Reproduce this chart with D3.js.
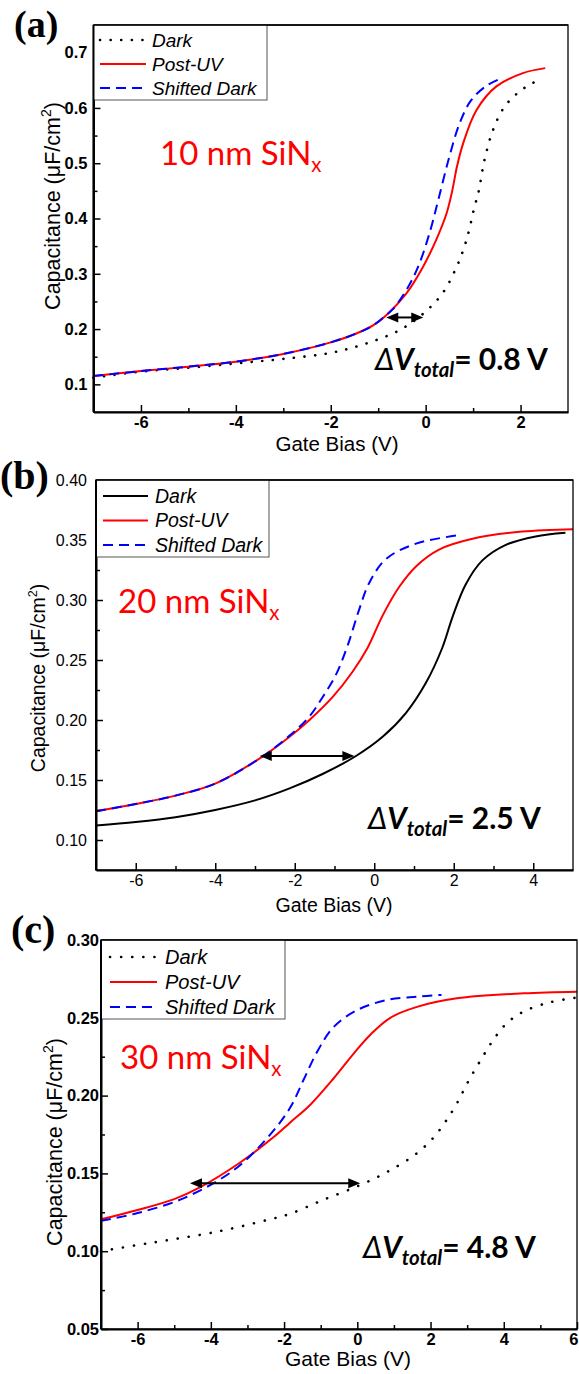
<!DOCTYPE html>
<html><head><meta charset="utf-8">
<script src="https://cdn.jsdelivr.net/npm/d3@7"></script>
<style>body{margin:0;background:#fff}</style>
</head><body>
<svg id="chart" width="579" height="1374" xmlns="http://www.w3.org/2000/svg"></svg>
<script>
// ---------- DATA (Gate Bias V, Capacitance uF/cm2) ----------
const seriesNames = ["Dark", "Post-UV", "Shifted Dark"];

// Panel (a) 10 nm SiNx
const aDark = [[-7,0.112],[-6,0.123],[-5,0.130],[-4,0.138],[-3,0.146],[-2,0.157],[-1.25,0.174],[-0.55,0.198],[-0.05,0.228],[0.35,0.264],[0.65,0.312],[0.86,0.361],[1.03,0.421],[1.12,0.45],[1.24,0.506],[1.42,0.56],[1.66,0.602],[1.94,0.627],[2.19,0.642],[2.42,0.652]];
const aPostUV = [[-7,0.115],[-6,0.124],[-5,0.132],[-4,0.141],[-3,0.155],[-2,0.176],[-1.46,0.192],[-1.1,0.207],[-0.83,0.225],[-0.41,0.264],[-0.06,0.312],[0.22,0.361],[0.44,0.409],[0.56,0.45],[0.66,0.494],[0.79,0.536],[1.07,0.596],[1.49,0.639],[2.05,0.663],[2.52,0.672]];
const aShifted = [[-7,0.115],[-6,0.124],[-5,0.132],[-4,0.141],[-3,0.155],[-2,0.176],[-1.46,0.192],[-1.1,0.207],[-0.85,0.224],[-0.69,0.236],[-0.41,0.27],[-0.16,0.3125],[0.08,0.373],[0.27,0.435],[0.5,0.512],[0.72,0.573],[0.96,0.614],[1.28,0.64],[1.55,0.652]];
const aArrow = [-0.83, -0.05, 0.221];
const aXTicks = [-6,-4,-2,0,2], aXMinor = [-5,-3,-1,1];
const aYTicks = [0.1,0.2,0.3,0.4,0.5,0.6,0.7], aYMinor = [0.15,0.25,0.35,0.45,0.55,0.65];
const aLabel = "10 nm SiN", aShift = "0.8";

// Panel (b) 20 nm SiNx
const bDark = [[-7,0.112],[-6,0.115],[-5,0.119],[-4,0.125],[-3,0.133],[-2.13,0.143],[-1.3,0.155],[-0.46,0.170],[0.21,0.186],[0.8,0.206],[1.3,0.231],[1.71,0.260],[1.97,0.286],[2.3,0.313],[2.72,0.333],[3.31,0.346],[4.06,0.353],[4.81,0.356]];
const bPostUV = [[-7,0.124],[-6,0.130],[-5,0.137],[-4,0.147],[-2.88,0.168],[-2.13,0.186],[-1.63,0.2],[-1.05,0.219],[-0.55,0.24],[-0.17,0.26],[0.21,0.287],[0.63,0.311],[1.05,0.328],[1.63,0.342],[2.47,0.351],[3.72,0.357],[5,0.359]];
const bShifted = [[-7,0.124],[-6,0.130],[-5,0.137],[-4,0.147],[-2.88,0.168],[-2.13,0.187],[-1.63,0.203],[-1.3,0.219],[-0.96,0.238],[-0.67,0.262],[-0.38,0.292],[-0.13,0.314],[0.29,0.334],[1.05,0.347],[2.13,0.354]];
const bArrow = [-2.88, -0.5, 0.17];
const bXTicks = [-6,-4,-2,0,2,4], bXMinor = [-5,-3,-1,1,3];
const bYTicks = [0.10,0.15,0.20,0.25,0.30,0.35,0.40], bYMinor = [0.125,0.175,0.225,0.275,0.325,0.375];
const bLabel = "20 nm SiN", bShift = "2.5";

// Panel (c) 30 nm SiNx
const cDark = [[-7,0.100],[-6,0.104],[-5.2,0.107],[-3.84,0.1125],[-2.47,0.12],[-1.84,0.124],[-0.93,0.133],[0.08,0.1425],[0.9,0.152],[1.63,0.163],[2.08,0.173],[2.4,0.183],[2.72,0.195],[3.05,0.21],[3.4,0.224],[3.72,0.236],[4.08,0.2465],[4.54,0.254],[5.27,0.26],[6.0,0.263]];
const cPostUV = [[-7,0.1205],[-6,0.1265],[-5,0.1335],[-4.3,0.141],[-3.2,0.157],[-2.2,0.175],[-1.84,0.1826],[-1.29,0.194],[-0.65,0.211],[-0.1,0.227],[0.35,0.239],[0.9,0.250],[1.63,0.257],[2.72,0.2625],[4.54,0.2657],[6.0,0.2668]];
const cShifted = [[-7,0.1195],[-6,0.1245],[-4.75,0.134],[-3.38,0.152],[-2.47,0.1725],[-1.84,0.192],[-1.47,0.21],[-1.1,0.228],[-0.65,0.244],[0,0.255],[0.8,0.2614],[1.63,0.2636],[2.3,0.2647]];
const cArrow = [-4.57, 0.08, 0.1436];
const cXTicks = [-6,-4,-2,0,2,4,6], cXMinor = [-5,-3,-1,1,3,5];
const cYTicks = [0.05,0.10,0.15,0.20,0.25,0.30], cYMinor = [0.075,0.125,0.175,0.225,0.275];
const cLabel = "30 nm SiN", cShift = "4.8";

// ---------- DRAWING ----------
const svg = d3.select("#chart");
svg.append("rect").attr("width",579).attr("height",1374).attr("fill","#fff");
const SANS = "Arial, 'Liberation Sans', sans-serif";
const RED = "#ff0000", BLUE = "#0000ff";

function styleLine(sel, st) {
  sel.attr("fill","none").attr("stroke",st.color).attr("stroke-width",st.width)
     .attr("stroke-dasharray",st.dash).attr("stroke-linecap",st.cap);
}

function panel(p) {
  const x = d3.scaleLinear().domain(p.xDom).range([p.l, p.r]);
  const y = d3.scaleLinear().domain(p.yDom).range([p.b, p.t]);
  const g = svg.append("g");
  const fw = p.bold ? "bold" : "normal";

  // curves
  const line = d3.line().x(d => x(d[0])).y(d => y(d[1])).curve(d3.curveCatmullRom.alpha(0.5));
  p.series.forEach(s => {
    g.append("path").datum(s.data).attr("d", line).call(styleLine, s);
  });

  // frame
  g.append("rect").attr("x",p.l).attr("y",p.t).attr("width",p.r-p.l).attr("height",p.b-p.t)
    .attr("fill","none").attr("stroke","#000").attr("stroke-width",1.3);

  // minor ticks
  const mx = g.append("g").attr("transform",`translate(0,${p.b})`)
    .call(d3.axisBottom(x).tickValues(p.xMinor).tickSizeInner(-4).tickSizeOuter(0).tickFormat(""));
  const my = g.append("g").attr("transform",`translate(${p.l},0)`)
    .call(d3.axisLeft(y).tickValues(p.yMinor).tickSizeInner(-4).tickSizeOuter(0).tickFormat(""));
  [mx,my].forEach(a => { a.select(".domain").remove(); a.selectAll("line").attr("stroke-width",1.5); });

  // major axes
  const ax = g.append("g").attr("transform",`translate(0,${p.b})`)
    .call(d3.axisBottom(x).tickValues(p.xTicks).tickSizeInner(-7).tickSizeOuter(0).tickPadding(p.xPad).tickFormat(d => String(d)));
  const ay = g.append("g").attr("transform",`translate(${p.l},0)`)
    .call(d3.axisLeft(y).tickValues(p.yTicks).tickSizeInner(-7).tickSizeOuter(0).tickPadding(p.yPad).tickFormat(d3.format(p.yFmt)));
  [ax,ay].forEach(a => {
    a.select(".domain").attr("stroke-width",2);
    a.selectAll("line").attr("stroke-width",1.5);
    a.selectAll("text").attr("font-family",SANS).attr("font-size",p.tickSize).attr("font-weight",fw).attr("fill","#000");
  });
  // keep the last x label (at the right edge) inside the picture
  ax.selectAll(".tick text").filter(d => x(d) > 570).attr("text-anchor","end").attr("dx", 578 - x(p.xDom[1]) + "px");

  // axis titles
  g.append("text").attr("x",p.xtX).attr("y",p.xtY).attr("text-anchor","middle")
    .attr("font-family",SANS).attr("font-size",p.xtSize).text("Gate Bias (V)");
  const yt = g.append("text").attr("transform",`translate(${p.ytX},${p.ytY}) rotate(-90)`)
    .attr("text-anchor","middle").attr("font-family",SANS).attr("font-size",p.titleSize);
  yt.append("tspan").text("Capacitance (\u03BCF/cm");
  yt.append("tspan").attr("font-size",p.titleSize*0.65).attr("dy",-p.titleSize*0.4).text("2");
  yt.append("tspan").attr("dy",p.titleSize*0.4).text(")");

  // legend
  const L = p.legend;
  g.append("rect").attr("x",p.l).attr("y",p.t).attr("width",L.w).attr("height",L.h)
    .attr("fill","#fff").attr("stroke","#555").attr("stroke-width",1);
  p.series.forEach((s,i) => {
    const ly = L.y0 + i*L.dy;
    g.append("line").attr("x1",L.sx1).attr("x2",L.sx2).attr("y1",ly).attr("y2",ly).call(styleLine, s);
    g.append("text").attr("x",L.tx).attr("y",ly).attr("dy","0.35em")
      .attr("font-family",SANS).attr("font-style","italic").attr("font-size",L.fs).text(s.name);
  });
  g.append("line").attr("x1",p.l).attr("x2",p.l).attr("y1",p.t).attr("y2",p.b).attr("stroke","#000").attr("stroke-width",2);
  g.append("line").attr("x1",p.l).attr("x2",p.r).attr("y1",p.t).attr("y2",p.t).attr("stroke","#000").attr("stroke-width",1.3);

  // arrow
  const [a0,a1,av] = p.arrow;
  const X0 = x(a0), X1 = x(a1), Y = y(av), hl = 12, hw = 5;
  g.append("line").attr("x1",X0+hl-1).attr("x2",X1-hl+1).attr("y1",Y).attr("y2",Y).attr("stroke","#000").attr("stroke-width",2);
  g.append("path").attr("d",`M${X0},${Y}L${X0+hl},${Y-hw}L${X0+hl},${Y+hw}Z`).attr("fill","#000");
  g.append("path").attr("d",`M${X1},${Y}L${X1-hl},${Y-hw}L${X1-hl},${Y+hw}Z`).attr("fill","#000");

  // thickness label
  const tl = g.append("text").attr("x",p.lab.x).attr("y",p.lab.y).attr("fill",RED)
    .attr("font-family","Lato, 'Open Sans', sans-serif").attr("font-size",p.lab.fs);
  tl.append("tspan").text(p.labText);
  tl.append("tspan").attr("font-size",p.lab.fs*0.62).attr("dy",p.lab.fs*0.22).text("x");

  // delta V label
  const dv = g.append("text").attr("x",p.dv.x).attr("y",p.dv.y)
    .attr("font-family","Lato, 'Open Sans', sans-serif").attr("font-size",p.dv.fs).attr("fill","#000");
  dv.append("tspan").attr("font-style","italic").attr("font-weight","normal").text("\u0394");
  dv.append("tspan").attr("font-style","italic").attr("font-weight","bold").text("V");
  dv.append("tspan").attr("font-style","italic").attr("font-weight","bold").attr("font-size",p.dv.fs*0.68).attr("dy",p.dv.fs*0.22).text("total");
  dv.append("tspan").attr("font-weight","bold").attr("dy",-p.dv.fs*0.22).text("= " + p.shift + " V");

  // panel letter
  svg.append("text").attr("x",p.letter.x).attr("y",p.letter.y)
    .attr("font-family","'Liberation Serif', 'Times New Roman', serif").attr("font-weight","bold")
    .attr("font-size",p.letter.fs).text(p.letter.t);
}

panel({
  l:93.5, r:568, t:25, b:412, xDom:[-7,3], yDom:[0.05,0.75], bold:true,
  xTicks:aXTicks, xMinor:aXMinor, yTicks:aYTicks, yMinor:aYMinor, yFmt:".1f",
  xPad:4, yPad:6, tickSize:16.5, titleSize:21.5, xtSize:20.5,
  xtX:337, xtY:451, ytX:60, ytY:206,
  series:[
    {name:seriesNames[0], data:aDark, color:"#000", width:2.6, dash:"0.1,10.5", cap:"round"},
    {name:seriesNames[1], data:aPostUV, color:RED, width:2, dash:null, cap:"butt"},
    {name:seriesNames[2], data:aShifted, color:BLUE, width:2, dash:"10,6", cap:"butt"}
  ],
  legend:{w:173.5, h:75, y0:40, dy:24, sx1:100, sx2:146, tx:152, fs:19},
  arrow:aArrow, labText:aLabel, lab:{x:160, y:165, fs:33}, shift:aShift,
  dv:{x:375, y:370, fs:30},
  letter:{x:14, y:37, fs:38, t:"(a)"}
});

panel({
  l:96, r:573, t:480, b:870, xDom:[-7,5], yDom:[0.075,0.40], bold:false,
  xTicks:bXTicks, xMinor:bXMinor, yTicks:bYTicks, yMinor:bYMinor, yFmt:".2f",
  xPad:5, yPad:9, tickSize:16, titleSize:19.5, xtSize:19.5,
  xtX:334, xtY:912, ytX:45, ytY:678,
  series:[
    {name:seriesNames[0], data:bDark, color:"#000", width:2, dash:null, cap:"butt"},
    {name:seriesNames[1], data:bPostUV, color:RED, width:2, dash:null, cap:"butt"},
    {name:seriesNames[2], data:bShifted, color:BLUE, width:2, dash:"10,6", cap:"butt"}
  ],
  legend:{w:173, h:77, y0:496, dy:24.5, sx1:103, sx2:148, tx:155, fs:19.5},
  arrow:bArrow, labText:bLabel, lab:{x:118, y:613, fs:33}, shift:bShift,
  dv:{x:368, y:829, fs:30},
  letter:{x:0, y:489, fs:40, t:"(b)"}
});

panel({
  l:101, r:577, t:940, b:1329, xDom:[-7,6], yDom:[0.05,0.30], bold:true,
  xTicks:cXTicks, xMinor:cXMinor, yTicks:cYTicks, yMinor:cYMinor, yFmt:".2f",
  xPad:4, yPad:2, tickSize:16.5, titleSize:21.5, xtSize:21,
  xtX:348, xtY:1366, ytX:62, ytY:1142,
  series:[
    {name:seriesNames[0], data:cDark, color:"#000", width:2.6, dash:"0.1,11", cap:"round"},
    {name:seriesNames[1], data:cPostUV, color:RED, width:2, dash:null, cap:"butt"},
    {name:seriesNames[2], data:cShifted, color:BLUE, width:2, dash:"10,6", cap:"butt"}
  ],
  legend:{w:184, h:79, y0:957, dy:25, sx1:110, sx2:157, tx:165, fs:20},
  arrow:cArrow, labText:cLabel, lab:{x:120, y:1069, fs:33}, shift:cShift,
  dv:{x:363, y:1258, fs:30},
  letter:{x:11, y:943, fs:40, t:"(c)"}
});
</script>
</body></html>
